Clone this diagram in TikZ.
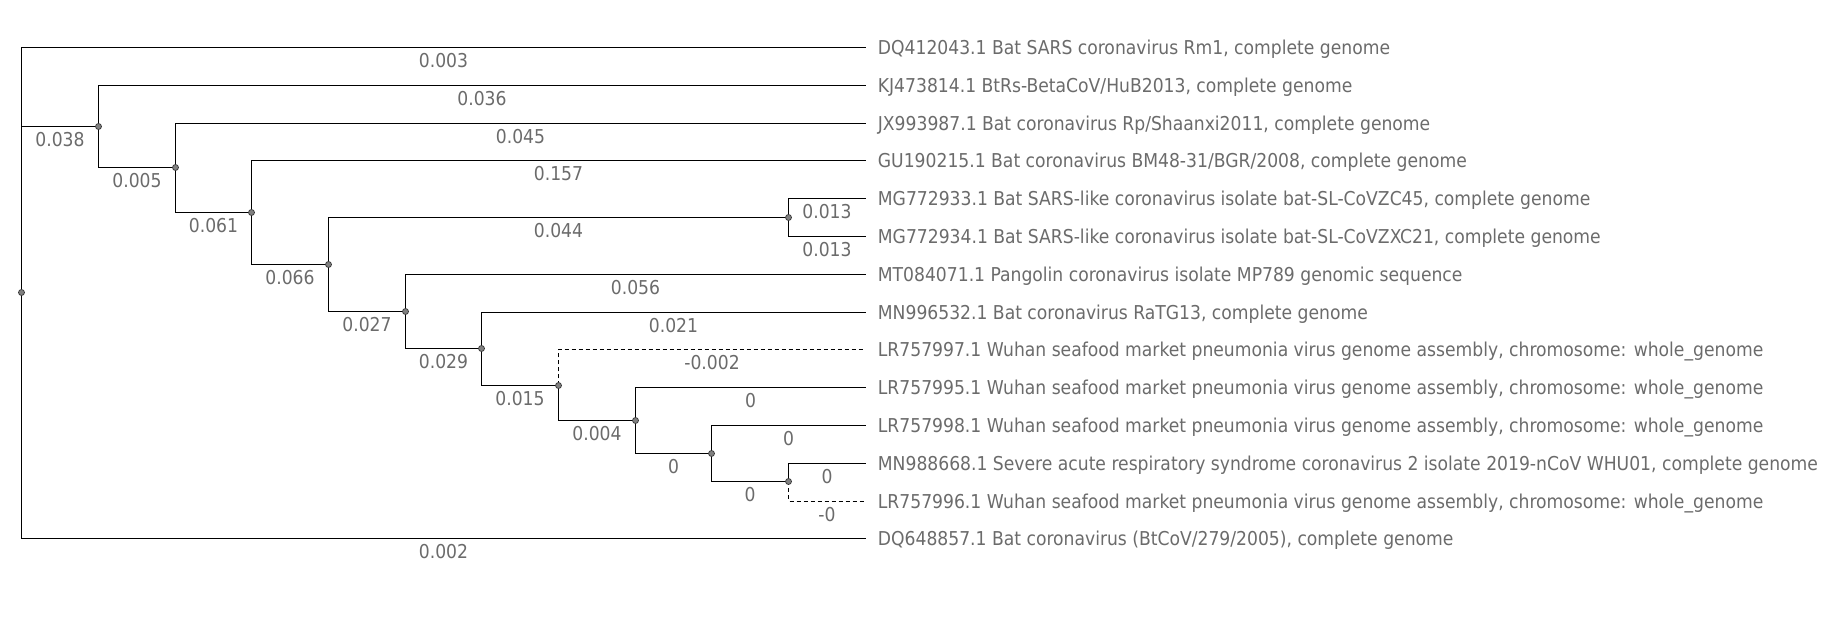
\documentclass[tikz,border=0pt]{standalone}
\usepackage{fontspec}
\setmainfont{DejaVu Sans Condensed}
\begin{document}
\begin{tikzpicture}[x=0.5pt,y=-0.5pt]
  % Colors
  \colorlet{labelcolor}{black!58}
  \colorlet{forkcolor}{black!50}

  % Styles
  \tikzstyle{branch}=[line width=0.55pt]
  \tikzstyle{negative branch}=[branch,dash pattern=on 2pt off 1.5pt]
  \tikzstyle{taxon}=[anchor=west,inner xsep=6pt,inner ysep=0pt,text height=7pt,text depth=0pt,text=labelcolor,font=\fontsize{9.55}{11}\selectfont]
  \tikzstyle{blen}=[pos=0.75,yshift=-6.3pt,inner sep=0pt,text=labelcolor,font=\fontsize{9.55}{11}\selectfont]
  \tikzstyle{fork}=[circle,fill=forkcolor,draw=black!80,line width=0.35pt,inner sep=0pt,minimum size=3pt]

  \useasboundingbox (0,0) rectangle (1836,624);

  % The taxa
  \foreach \i/\name/\txt in {
    0/dqa/{DQ412043.1 Bat SARS coronavirus Rm1, complete genome},
    1/kj/{KJ473814.1 BtRs-BetaCoV/HuB2013, complete genome},
    2/jx/{JX993987.1 Bat coronavirus Rp/Shaanxi2011, complete genome},
    3/gu/{GU190215.1 Bat coronavirus BM48-31/BGR/2008, complete genome},
    4/mga/{MG772933.1 Bat SARS-like coronavirus isolate bat-SL-CoVZC45, complete genome},
    5/mgb/{MG772934.1 Bat SARS-like coronavirus isolate bat-SL-CoVZXC21, complete genome},
    6/mt/{MT084071.1 Pangolin coronavirus isolate MP789 genomic sequence},
    7/mna/{MN996532.1 Bat coronavirus RaTG13, complete genome},
    8/lra/{LR757997.1 Wuhan seafood market pneumonia virus genome assembly, chromosome: whole\_genome},
    9/lrb/{LR757995.1 Wuhan seafood market pneumonia virus genome assembly, chromosome: whole\_genome},
    10/lrc/{LR757998.1 Wuhan seafood market pneumonia virus genome assembly, chromosome: whole\_genome},
    11/mnb/{MN988668.1 Severe acute respiratory syndrome coronavirus 2 isolate 2019-nCoV WHU01, complete genome},
    12/lrd/{LR757996.1 Wuhan seafood market pneumonia virus genome assembly, chromosome: whole\_genome},
    13/dqb/{DQ648857.1 Bat coronavirus (BtCoV/279/2005), complete genome}}
    \node[taxon] (\name) at (865.5,{47.5+round(37.8*\i)}) {\txt};

  % The forks
  \coordinate (nroot) at (21.5,292.5);
  \coordinate (na) at (98.5,126.5);
  \coordinate (nb) at (175.5,167.5);
  \coordinate (nc) at (251.5,212.5);
  \coordinate (nd) at (328.5,264.5);
  \coordinate (ne) at (788.5,217.5);
  \coordinate (nf) at (405.5,311.5);
  \coordinate (ng) at (481.5,348.5);
  \coordinate (nh) at (558.5,385.5);
  \coordinate (ni) at (635.5,420.5);
  \coordinate (nj) at (711.5,453.5);
  \coordinate (nk) at (788.5,481.5);

  % The branches
  \draw[branch] (nroot) |- node[blen] {0.003} (dqa.west);
  \draw[branch] (nroot) |- node[blen] {0.038} (na);
  \draw[branch] (nroot) |- node[blen] {0.002} (dqb.west);
  \draw[branch] (na) |- node[blen] {0.036} (kj.west);
  \draw[branch] (na) |- node[blen] {0.005} (nb);
  \draw[branch] (nb) |- node[blen] {0.045} (jx.west);
  \draw[branch] (nb) |- node[blen] {0.061} (nc);
  \draw[branch] (nc) |- node[blen] {0.157} (gu.west);
  \draw[branch] (nc) |- node[blen] {0.066} (nd);
  \draw[branch] (nd) |- node[blen] {0.044} (ne);
  \draw[branch] (nd) |- node[blen] {0.027} (nf);
  \draw[branch] (ne) |- node[blen] {0.013} (mga.west);
  \draw[branch] (ne) |- node[blen] {0.013} (mgb.west);
  \draw[branch] (nf) |- node[blen] {0.056} (mt.west);
  \draw[branch] (nf) |- node[blen] {0.029} (ng);
  \draw[branch] (ng) |- node[blen] {0.021} (mna.west);
  \draw[branch] (ng) |- node[blen] {0.015} (nh);
  \draw[negative branch] (nh) |- node[blen] {-0.002} (lra.west);
  \draw[branch] (nh) |- node[blen] {0.004} (ni);
  \draw[branch] (ni) |- node[blen] {0} (lrb.west);
  \draw[branch] (ni) |- node[blen] {0} (nj);
  \draw[branch] (nj) |- node[blen] {0} (lrc.west);
  \draw[branch] (nj) |- node[blen] {0} (nk);
  \draw[branch] (nk) |- node[blen] {0} (mnb.west);
  \draw[negative branch] (nk) |- node[blen] {-0} (lrd.west);

  \foreach \n in {nroot,na,nb,nc,nd,ne,nf,ng,nh,ni,nj,nk}
    \node[fork] (d\n) at (\n) {};
\end{tikzpicture}
\end{document}
